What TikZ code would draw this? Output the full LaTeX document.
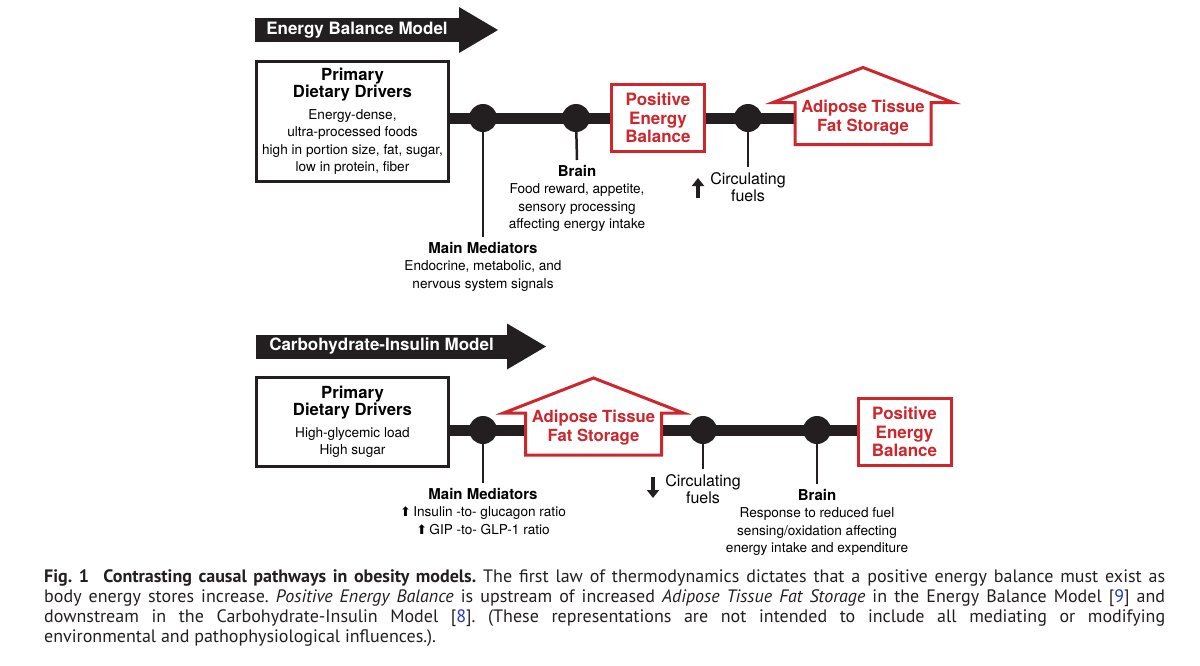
\documentclass[tikz,border=0pt]{standalone}
\usepackage{fontspec}
\setmainfont{TeX Gyre Heros}
\newfontfamily\captionfont{PT Sans}
\newfontfamily\arrowfont{DejaVu Sans}
\usetikzlibrary{arrows.meta}

\definecolor{ink}{RGB}{35,31,32}
\definecolor{fatred}{RGB}{206,38,44}
\definecolor{citeblue}{RGB}{35,55,200}

\begin{document}
\begin{tikzpicture}[x=1pt,y=-1pt,
modelbar/.style={fill=ink, text=white, font=\bfseries\fontsize{17}{20}\selectfont, minimum height=24pt, inner sep=0pt, outer sep=0pt},
driverbox/.style={draw=ink, line width=3pt, align=center, font=\fontsize{13.6}{17.5}\selectfont, minimum width=192pt},
hub/.style={circle, fill=ink, minimum size=28pt, inner sep=0pt},
balancebox/.style={draw=fatred, line width=3pt, text=fatred, align=center, font=\bfseries\fontsize{17}{18.5}\selectfont, minimum width=93pt, minimum height=67pt, inner sep=0pt},
fattext/.style={text=fatred, align=center, font=\bfseries\fontsize{16.7}{19}\selectfont, minimum width=136pt, inner sep=0pt},
note/.style={anchor=north, align=center, font=\fontsize{13.6}{17.5}\selectfont, inner xsep=0pt, inner ysep=5pt},
fuelnote/.style={note, font=\fontsize{16}{17}\selectfont},
bar/.style={draw=ink, line width=11pt},
stem/.style={draw=ink, line width=2.5pt},
roof/.style={draw=fatred, line width=3pt},
updown/.style={draw=ink, line width=3.5pt, -{Triangle[width=12pt,length=8pt]}},
]
\useasboundingbox (0,0) rectangle (1200,665);

    % Energy Balance Model
    \node [modelbar, minimum width=204pt] (ebhead) at (357,30) {Energy Balance Model};
    \node [driverbox, minimum height=120pt] (ebdrv) at (352.5,121.5) {{\bfseries\fontsize{16.7}{18}\selectfont Primary}\\{\bfseries\fontsize{16.7}{18}\selectfont Dietary Drivers}\\[4pt]Energy-dense,\\ultra-processed foods\\high in portion size, fat, sugar,\\low in protein, fiber};

    \node [hub] (ebmed) at (483,118) {};
    \node [hub] (ebbrain) at (576,118) {};
    \node [balancebox] (ebpeb) at (658,118) {Positive\\Energy\\Balance};
    \node [hub] (ebfuel) at (748,118) {};
    \node [fattext] (ebfat) at (863,117.5) {Adipose Tissue\\Fat Storage};

    \node [note] (ebmednote) at (483,237) {{\bfseries\fontsize{15}{18}\selectfont Main Mediators}\\Endocrine, metabolic, and\\nervous system signals};
    \node [note] (ebbrainnote) at (577,160) {{\bfseries\fontsize{15}{18}\selectfont Brain}\\Food reward, appetite,\\sensory processing\\affecting energy intake};
    \node [fuelnote] (ebfuelnote) at (748,167) {Circulating\\fuels};

    \fill [ink] ([yshift=11pt]ebhead.north east) -- ([xshift=39pt]ebhead.east) -- ([yshift=-11pt]ebhead.south east) -- cycle;
    \draw [bar] (ebdrv.east |- ebmed) -- (ebpeb.west |- ebmed);
    \draw [bar] (ebpeb.east |- ebmed) -- (ebfat.west |- ebmed);
    \draw [stem] (ebmed) -- (ebmednote.north);
    \draw [stem] (ebbrain) -- (ebbrainnote.north);
    \draw [stem] (ebfuel) -- (ebfuelnote.north);
    \draw [roof] ([xshift=-68pt,yshift=15pt]ebfat.center) -- ++(0,42) -- ++(136,0) -- ++(0,-42) -- ++(22,0) -- ++(-90,-35) -- ++(-90,35) -- cycle;
    \draw [updown] (698,198) -- (698,178);

    % Carbohydrate-Insulin Model
    \node [modelbar, minimum width=251pt] (cihead) at (381.5,346.5) {Carbohydrate-Insulin Model};
    \node [driverbox, minimum height=89pt] (cidrv) at (352.5,422) {{\bfseries\fontsize{16.7}{18}\selectfont Primary}\\{\bfseries\fontsize{16.7}{18}\selectfont Dietary Drivers}\\[4pt]High-glycemic load\\High sugar};

    \node [hub] (cimed) at (483,430) {};
    \node [fattext] (cifat) at (593.5,428) {Adipose Tissue\\Fat Storage};
    \node [hub] (cifuel) at (703,430) {};
    \node [hub] (cibrain) at (817,430) {};
    \node [balancebox] (cipeb) at (904.5,432) {Positive\\Energy\\Balance};

    \node [note] (cimednote) at (483,483) {{\bfseries\fontsize{15}{18}\selectfont Main Mediators}\\{\arrowfont\fontsize{13}{12}\selectfont ⬆}\,Insulin -to- glucagon ratio\\{\arrowfont\fontsize{13}{12}\selectfont ⬆}\,GIP -to- GLP-1 ratio};
    \node [fuelnote] (cifuelnote) at (703,469) {Circulating\\fuels};
    \node [note] (cibrainnote) at (817,484) {{\bfseries\fontsize{15}{18}\selectfont Brain}\\Response to reduced fuel\\sensing/oxidation affecting\\energy intake and expenditure};

    \fill [ink] ([yshift=11pt]cihead.north east) -- ([xshift=39pt]cihead.east) -- ([yshift=-11pt]cihead.south east) -- cycle;
    \draw [bar] (cidrv.east |- cimed) -- (cifat.west |- cimed);
    \draw [bar] (cifat.east |- cimed) -- (cipeb.west |- cimed);
    \draw [stem] (cimed) -- (cimednote.north);
    \draw [stem] (cifuel) -- (cifuelnote.north);
    \draw [stem] (cibrain) -- (cibrainnote.north);
    \draw [roof] ([xshift=-68pt,yshift=15pt]cifat.center) -- ++(0,42) -- ++(136,0) -- ++(0,-42) -- ++(22,0) -- ++(-90,-35) -- ++(-90,35) -- cycle;
    \draw [updown] (653,477) -- (653,498);

    % caption
    \node [anchor=north west, text width=1121pt, align=justify, inner sep=0pt, text=ink, font=\captionfont\fontsize{18}{20}\selectfont] (caption) at (44,569) {\frenchspacing\hyphenpenalty=10000\exhyphenpenalty=10000\textbf{Fig.~1}\hspace{0.8em}\textbf{Contrasting causal pathways in obesity models.} The first law of thermodynamics dictates that a positive energy balance must exist as\linebreak body energy stores increase. \textit{Positive Energy Balance} is upstream of increased \textit{Adipose Tissue Fat Storage} in the Energy Balance Model [\textcolor{citeblue}{9}] and\linebreak downstream in the Carbohydrate-Insulin Model [\textcolor{citeblue}{8}]. (These representations are not intended to include all mediating or modifying\linebreak environmental and pathophysiological influences.).};
\end{tikzpicture}
\end{document}
